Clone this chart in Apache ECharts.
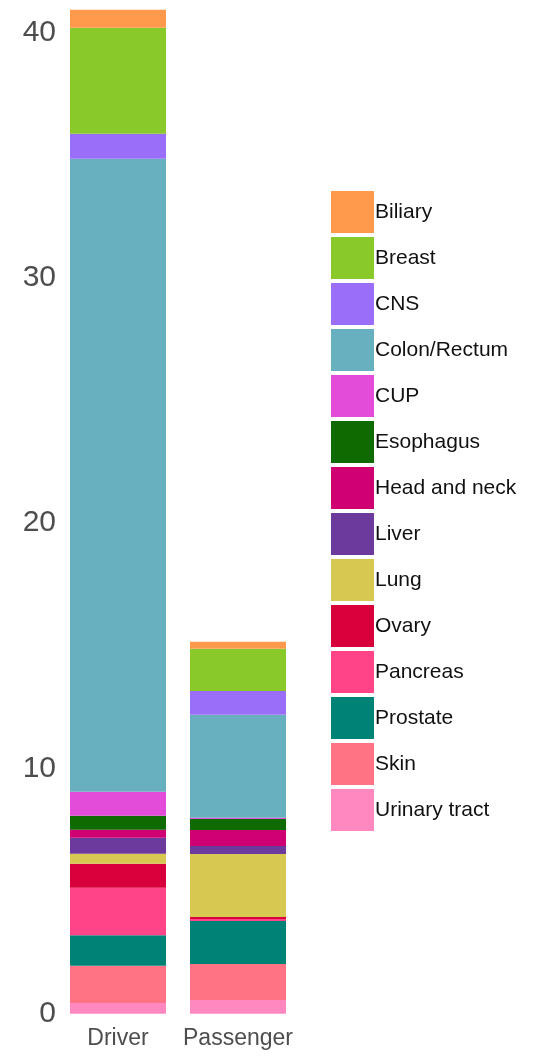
<!DOCTYPE html>
<html>
<head>
<meta charset="utf-8">
<script src="https://cdn.jsdelivr.net/npm/echarts@6/dist/echarts.min.js"></script>
<style>
  html, body { margin: 0; padding: 0; background: #fff; }
  #chart { width: 534px; height: 1060px; }
</style>
</head>
<body>
<div id="chart"></div>
<script>
// Mutation classes on the x axis
const groups = ['Driver', 'Passenger'];

// Tumour types, listed top of the stack first (legend order)
const tumourTypes = ['Biliary', 'Breast', 'CNS', 'Colon/Rectum', 'CUP', 'Esophagus',
  'Head and neck', 'Liver', 'Lung', 'Ovary', 'Pancreas', 'Prostate', 'Skin', 'Urinary tract'];

const tumourColors = ['#FF9A4D', '#89C92A', '#9A6EF9', '#68AFBF', '#E24CD9', '#0F6A02',
  '#CF0072', '#6B3A9C', '#D6C850', '#D8003A', '#FF4488', '#008377', '#FF7385', '#FF88C0'];

// Values per tumour type: [Driver, Passenger]
const biliary      = [0.74, 0.28];
const breast       = [4.32, 1.72];
const cns          = [1.02, 0.97];
const colonRectum  = [25.8, 4.2];
const cup          = [0.98, 0.05];
const esophagus    = [0.57, 0.45];
const headAndNeck  = [0.33, 0.65];
const liver        = [0.65, 0.33];
const lung         = [0.41, 2.57];
const ovary        = [0.98, 0.08];
const pancreas     = [1.93, 0.08];
const prostate     = [1.25, 1.75];
const skin         = [1.51, 1.47];
const urinaryTract = [0.44, 0.56];

const yTicks = [0, 10, 20, 30, 40];

const valuesByType = [biliary, breast, cns, colonRectum, cup, esophagus, headAndNeck,
  liver, lung, ovary, pancreas, prostate, skin, urinaryTract];

// Stack from the bottom up: Urinary tract first, Biliary last
const series = [];
for (let i = tumourTypes.length - 1; i >= 0; i--) {
  series.push({
    name: tumourTypes[i],
    type: 'bar',
    stack: 'total',
    barWidth: 96,
    data: valuesByType[i],
    itemStyle: { color: tumourColors[i] },
    emphasis: { disabled: true }
  });
}

const chart = echarts.init(document.getElementById('chart'), null, { renderer: 'canvas' });
chart.setOption({
  animation: false,
  backgroundColor: '#ffffff',
  textStyle: { fontFamily: 'Liberation Sans, Arial, sans-serif' },
  grid: { left: 58, width: 240, top: 8, bottom: 46.3, containLabel: false },
  legend: {
    orient: 'vertical',
    left: 331,
    top: 191,
    padding: 0,
    icon: 'rect',
    itemWidth: 43,
    itemHeight: 42,
    itemGap: 4,
    selectedMode: false,
    data: tumourTypes,
    textStyle: { fontSize: 21, color: '#111111', padding: [4, 0, 0, -4],
                 fontFamily: 'Liberation Sans, Arial, sans-serif' }
  },
  xAxis: {
    type: 'category',
    data: groups,
    axisLine: { show: false },
    axisTick: { show: false },
    axisLabel: { fontSize: 23, color: '#4d4d4d', margin: 13, interval: 0, hideOverlap: false,
                 fontFamily: 'Liberation Sans, Arial, sans-serif' }
  },
  yAxis: {
    type: 'value',
    min: 0,
    max: 41,
    interval: 10,
    splitLine: { show: false },
    axisLine: { show: false },
    axisTick: { show: false },
    axisLabel: {
      fontSize: 30, color: '#4d4d4d', margin: 2,
      fontFamily: 'Liberation Sans, Arial, sans-serif',
      formatter: v => (yTicks.indexOf(v) >= 0 ? String(v) : '')
    }
  },
  series: series
});
</script>
</body>
</html>
